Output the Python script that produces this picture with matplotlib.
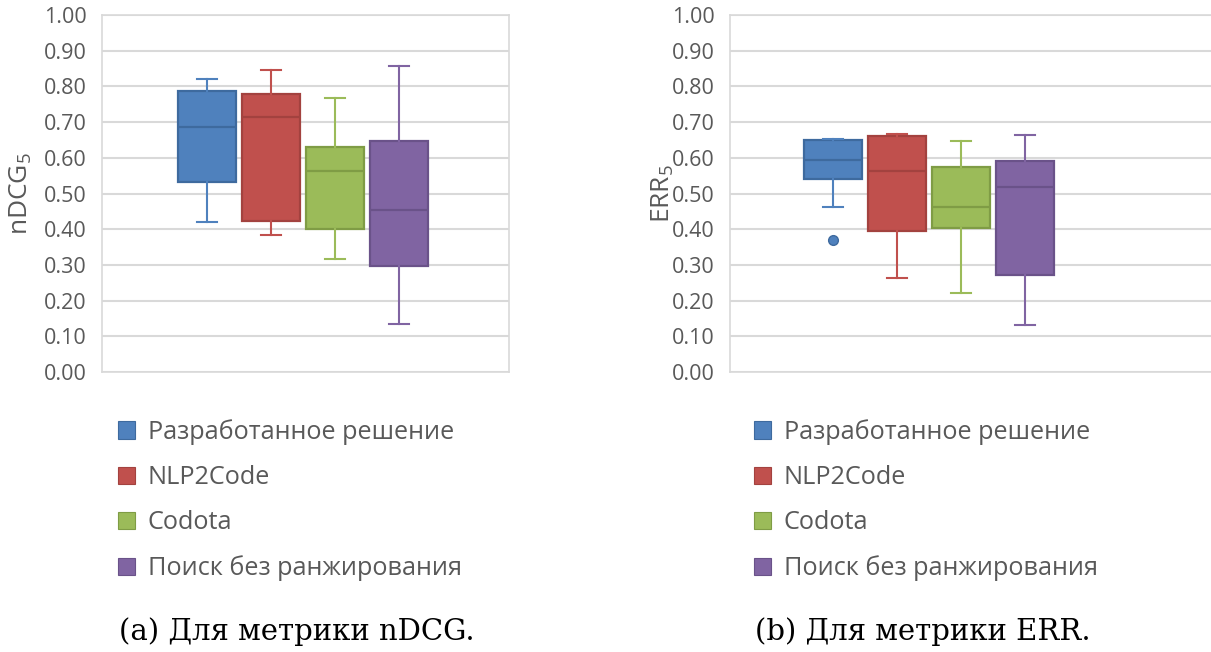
import matplotlib
matplotlib.use("Agg")
import matplotlib.pyplot as plt
from matplotlib.patches import Patch

# данные
series = ["Разработанное решение", "NLP2Code", "Codota", "Поиск без ранжирования"]
fill = ["#4F81BD", "#C0504D", "#9BBB59", "#8064A2"]
edge = ["#3E6A9E", "#A3423F", "#7F9C45", "#6A5289"]

# nDCG@5
ndcg_whislo = [0.420, 0.385, 0.317, 0.134]
ndcg_q1 = [0.533, 0.424, 0.401, 0.298]
ndcg_med = [0.685, 0.714, 0.564, 0.453]
ndcg_q3 = [0.788, 0.780, 0.630, 0.646]
ndcg_whishi = [0.822, 0.846, 0.768, 0.857]
ndcg_fliers = [[], [], [], []]

# ERR@5
err_whislo = [0.461, 0.264, 0.221, 0.132]
err_q1 = [0.542, 0.396, 0.404, 0.271]
err_med = [0.594, 0.564, 0.461, 0.517]
err_q3 = [0.649, 0.660, 0.574, 0.590]
err_whishi = [0.652, 0.667, 0.648, 0.663]
err_fliers = [[0.370], [], [], []]

yticks = [i / 10 for i in range(11)]

plt.rcParams['font.family'] = ['Open Sans', 'DejaVu Sans']
plt.rcParams['mathtext.fontset'] = 'custom'
plt.rcParams['mathtext.rm'] = 'Open Sans'
plt.rcParams['mathtext.default'] = 'regular'

W, H = 1211, 652
fig = plt.figure(figsize=(W / 100, H / 100), dpi=100)

def px(x0, y0, x1, y1):
    return [x0 / W, 1 - y1 / H, (x1 - x0) / W, (y1 - y0) / H]

def draw(ax, whislo, q1, med, q3, whishi, fliers, ylabel, xlim):
    stats = []
    for i in range(4):
        stats.append(dict(whislo=whislo[i], q1=q1[i], med=med[i], q3=q3[i],
                          whishi=whishi[i], fliers=fliers[i]))
    for i, s in enumerate(stats):
        ax.bxp([s], positions=[i + 1], widths=0.9, patch_artist=True,
               capwidths=0.3, showfliers=True,
               boxprops=dict(facecolor=fill[i], edgecolor=edge[i], linewidth=1.6),
               medianprops=dict(color=edge[i], linewidth=1.6),
               whiskerprops=dict(color=fill[i], linewidth=1.5),
               capprops=dict(color=fill[i], linewidth=1.5),
               flierprops=dict(marker='o', markersize=7, markerfacecolor=fill[i],
                               markeredgecolor=edge[i]),
               zorder=3)
    ax.set_ylim(0, 1)
    ax.set_xlim(*xlim)
    ax.set_yticks(yticks)
    ax.set_yticklabels(["%.2f" % v for v in yticks])
    ax.set_xticks([])
    ax.tick_params(axis='y', length=0, pad=11, labelsize=15.5, labelcolor='#595959')
    ax.grid(axis='y', color='#D9D9D9', linewidth=1.5, zorder=0)
    for sp in ax.spines.values():
        sp.set_color('#D9D9D9')
        sp.set_linewidth(1.2)
    ax.set_axisbelow(True)
    ax.set_ylabel(ylabel, fontsize=19, color='#595959')

ax1 = fig.add_axes(px(102, 15, 509, 372))
draw(ax1, ndcg_whislo, ndcg_q1, ndcg_med, ndcg_q3, ndcg_whishi, ndcg_fliers,
     'nDCG$_5$', (-0.64, 5.72))
ax1.yaxis.set_label_coords(-(102 - 34) / 407, 0.5)

ax2 = fig.add_axes(px(730, 15, 1215, 372))
draw(ax2, err_whislo, err_q1, err_med, err_q3, err_whishi, err_fliers,
     'ERR$_5$', (-0.61, -0.61 + 485 / 64))
ax2.yaxis.set_label_coords(-(730 - 676) / 485, 0.5)
ax2.spines['right'].set_visible(False)

handles = [Patch(facecolor=fill[i], edgecolor=edge[i], linewidth=0.8) for i in range(4)]
for x0 in (118, 754):
    fig.legend(handles, series, loc='upper left',
               bbox_to_anchor=(x0 / W, 1 - 419 / H), frameon=False,
               fontsize=18.2, labelcolor='#595959', handlelength=0.68,
               handleheight=0.68, handletextpad=0.5, labelspacing=0.8,
               borderpad=0, borderaxespad=0)

fig.text(297 / W, 1 - 632 / H, "(a) Для метрики nDCG.", family='DejaVu Serif',
         fontsize=21, ha='center', va='center', color='black')
fig.text(923 / W, 1 - 632 / H, "(b) Для метрики ERR.", family='DejaVu Serif',
         fontsize=21, ha='center', va='center', color='black')

fig.savefig("out.png", dpi=100)
